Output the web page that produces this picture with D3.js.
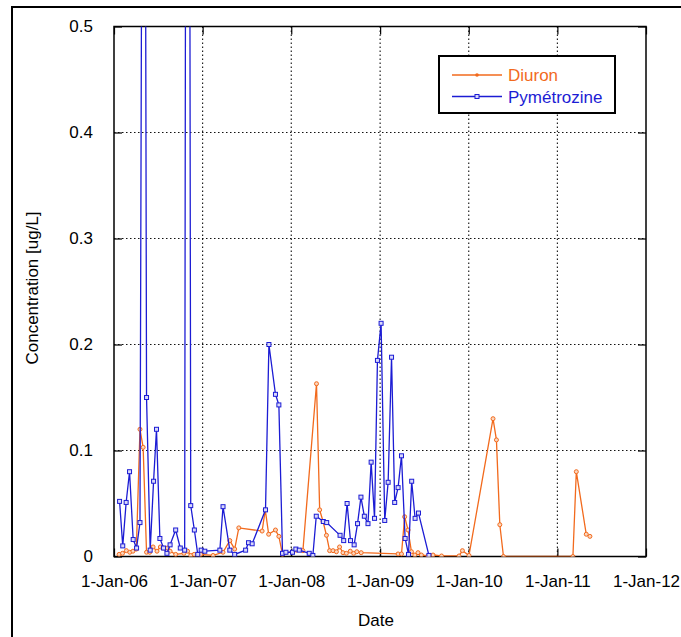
<!DOCTYPE html>
<html>
<head>
<meta charset="utf-8">
<script src="https://cdn.jsdelivr.net/npm/d3@7"></script>
<style>
  html, body { margin: 0; padding: 0; background: #fff; }
  svg { display: block; font-family: "Liberation Sans", Arial, sans-serif; }
</style>
</head>
<body>
<svg id="chart" width="681" height="637"></svg>
<script>
// Sampling dates and concentrations (ug/L)
const diuronDates = [
  "2006-01-22","2006-02-05","2006-02-21","2006-03-07","2006-03-20","2006-04-03",
  "2006-04-18","2006-05-01","2006-05-15","2006-05-28","2006-06-11","2006-06-27",
  "2006-07-11","2006-07-22","2006-08-09","2006-08-20","2006-09-12","2006-10-16",
  "2006-10-31","2006-11-13","2006-11-27","2006-12-24","2007-02-13","2007-03-26",
  "2007-04-23","2007-05-13","2007-05-30","2007-09-03","2007-09-16","2007-09-30",
  "2007-10-28","2007-11-11","2007-11-26","2008-01-22","2008-02-18","2008-04-14",
  "2008-04-27","2008-05-11","2008-05-25","2008-06-07","2008-06-21","2008-07-05",
  "2008-07-18","2008-08-01","2008-08-15","2008-08-31","2008-09-14","2008-09-27",
  "2008-10-15","2009-03-16","2009-03-30","2009-04-12","2009-04-26","2009-05-10",
  "2009-05-24","2009-06-06","2009-06-20","2009-07-17","2009-08-07","2009-09-11",
  "2009-11-22","2009-12-06","2010-01-02","2010-04-11","2010-04-25","2010-05-09",
  "2010-05-24","2011-03-06","2011-03-20","2011-04-30","2011-05-15"
];
const diuronValues = [
  0.002, 0.003, 0.0055, 0.004, 0.005, 0.007,
  0.120, 0.103, 0.004, 0.004, 0.009, 0.005,
  0.009, 0.008, 0.008, 0.005, 0.002, 0.003,
  0.005, 0.001, 0.002, 0.002, 0.001, 0.004,
  0.015, 0.007, 0.027, 0.024, 0.044, 0.021,
  0.025, 0.019, 0.002, 0.006, 0.0055, 0.163,
  0.044, 0.033, 0.020, 0.0055, 0.0055, 0.0045,
  0.009, 0.0036, 0.003, 0.005, 0.003, 0.0045,
  0.0036, 0.0024, 0.0024, 0.0375, 0.025, 0.0045,
  0.0014, 0.0036, 0.0014, 0.0005, 0.0014, 0.0005,
  0.0005, 0.0055, 0.001, 0.130, 0.110, 0.030,
  0.0, 0.0, 0.080, 0.021, 0.019
];

const pymDates = [
  "2006-01-24","2006-02-06","2006-02-20","2006-03-06","2006-03-21","2006-04-04",
  "2006-04-18","2006-05-04","2006-05-15","2006-05-30","2006-06-13","2006-06-25",
  "2006-07-09","2006-07-24","2006-08-07","2006-08-20","2006-09-12","2006-10-01",
  "2006-10-19","2006-10-31","2006-11-13","2006-11-28","2006-12-12","2006-12-26",
  "2007-01-10","2007-03-13","2007-03-26","2007-04-23","2007-05-13","2007-06-27",
  "2007-07-09","2007-07-24","2007-09-17","2007-10-01","2007-10-28","2007-11-11",
  "2007-11-26","2007-12-10","2008-01-06","2008-01-20","2008-02-03","2008-03-15",
  "2008-03-30","2008-04-13","2008-05-12","2008-05-26","2008-07-20","2008-08-04",
  "2008-08-18","2008-09-01","2008-09-16","2008-09-30","2008-10-14","2008-10-28",
  "2008-11-12","2008-11-25","2008-12-09","2008-12-21","2009-01-05","2009-01-20",
  "2009-02-03","2009-02-17","2009-03-02","2009-03-16","2009-03-30","2009-04-14",
  "2009-04-28","2009-05-11","2009-05-25","2009-06-08","2009-07-21"
];
const pymValues = [
  0.052, 0.010, 0.051, 0.080, 0.016, 0.008,
  0.032, 1.30, 0.150, 0.006, 0.071, 0.120,
  0.017, 0.008, 0.003, 0.011, 0.025, 0.008,
  0.006, 1.90, 0.048, 0.025, 0.002, 0.006,
  0.005, 0.006, 0.047, 0.006, 0.002, 0.006,
  0.013, 0.012, 0.044, 0.200, 0.153, 0.143,
  0.003, 0.004, 0.004, 0.007, 0.006, 0.003,
  0.001, 0.038, 0.033, 0.032, 0.020, 0.015,
  0.050, 0.015, 0.011, 0.031, 0.056, 0.038,
  0.031, 0.089, 0.036, 0.185, 0.220, 0.034,
  0.070, 0.188, 0.051, 0.065, 0.095, 0.017,
  0.002, 0.071, 0.036, 0.041, 0.001
];

const xTickDates = ["2006-01-01","2007-01-01","2008-01-01","2009-01-01","2010-01-01","2011-01-01","2012-01-01"];
const yTicks = [0, 0.1, 0.2, 0.3, 0.4, 0.5];
const seriesNames = ["Diuron", "Pymétrozine"];
const seriesColors = ["#f26a1d", "#1c1cd4"];

const parse = d3.utcParse("%Y-%m-%d");
const diuron = diuronDates.map((d, i) => ({ date: parse(d), value: diuronValues[i] }));
const pym = pymDates.map((d, i) => ({ date: parse(d), value: pymValues[i] }));
const xTicks = xTickDates.map(parse);

const svg = d3.select("#chart");
const plot = { left: 114, right: 646, top: 26.5, bottom: 556.5 };
const font = 17;

// Outer frame
svg.append("rect")
  .attr("x", 12).attr("y", 7).attr("width", 700).attr("height", 660)
  .attr("fill", "none").attr("stroke", "#000").attr("stroke-width", 2);

const x = d3.scaleUtc().domain([xTicks[0], xTicks[xTicks.length - 1]]).range([plot.left, plot.right]);
const y = d3.scaleLinear().domain([0, 0.5]).range([plot.bottom, plot.top]);

// Dotted grid
const grid = svg.append("g").attr("stroke", "#111").attr("stroke-width", 1.1).attr("stroke-dasharray", "1.5,2.5");
grid.selectAll("line.v").data(xTicks.slice(1, -1)).join("line")
  .attr("x1", d => x(d)).attr("x2", d => x(d))
  .attr("y1", plot.top).attr("y2", plot.bottom);
grid.selectAll("line.h").data(yTicks.slice(1, -1)).join("line")
  .attr("x1", plot.left).attr("x2", plot.right)
  .attr("y1", d => y(d)).attr("y2", d => y(d));

// Axes with inward ticks on every side
const fmtDate = d3.utcFormat("%-d-%b-%y");
const fmtY = d => d === 0 ? "0" : d3.format(".1f")(d);

const gx = svg.append("g").attr("transform", `translate(0,${plot.bottom})`)
  .call(d3.axisBottom(x).tickValues(xTicks).tickFormat(fmtDate).tickSizeInner(-8).tickSizeOuter(0).tickPadding(18));
const gxTop = svg.append("g").attr("transform", `translate(0,${plot.top})`)
  .call(d3.axisTop(x).tickValues(xTicks).tickFormat("").tickSizeInner(-8).tickSizeOuter(0));
const gy = svg.append("g").attr("transform", `translate(${plot.left},0)`)
  .call(d3.axisLeft(y).tickValues(yTicks).tickFormat(fmtY).tickSizeInner(-8).tickSizeOuter(0).tickPadding(21));
const gyRight = svg.append("g").attr("transform", `translate(${plot.right},0)`)
  .call(d3.axisRight(y).tickValues(yTicks).tickFormat("").tickSizeInner(-8).tickSizeOuter(0));

[gx, gxTop, gy, gyRight].forEach(g => {
  g.select(".domain").remove();
  g.selectAll(".tick line").attr("stroke", "#000").attr("stroke-width", 1.2);
  g.selectAll("text").attr("fill", "#000").style("font-size", font + "px")
    .style("font-family", '"Liberation Sans", Arial, sans-serif');
});

// Plot border
svg.append("rect")
  .attr("x", plot.left).attr("y", plot.top)
  .attr("width", plot.right - plot.left).attr("height", plot.bottom - plot.top)
  .attr("fill", "none").attr("stroke", "#000").attr("stroke-width", 1.5);

// Axis titles
svg.append("text")
  .attr("transform", `translate(38,288) rotate(-90)`)
  .attr("text-anchor", "middle").style("font-size", font + "px").text("Concentration [ug/L]");
svg.append("text")
  .attr("x", 376).attr("y", 626)
  .attr("text-anchor", "middle").style("font-size", font + "px").text("Date");

// Series, clipped to the plot area
svg.append("clipPath").attr("id", "clip").append("rect")
  .attr("x", plot.left).attr("y", plot.top)
  .attr("width", plot.right - plot.left).attr("height", plot.bottom - plot.top);
const body = svg.append("g").attr("clip-path", "url(#clip)");

const line = d3.line().x(d => x(d.date)).y(d => y(d.value));

// Diuron
body.append("path").datum(diuron)
  .attr("d", line).attr("fill", "none")
  .attr("stroke", seriesColors[0]).attr("stroke-width", 1.3);
body.selectAll("circle.diuron").data(diuron).join("circle")
  .attr("class", "diuron")
  .attr("cx", d => x(d.date)).attr("cy", d => y(d.value)).attr("r", 2)
  .attr("fill", "#fbd6bd").attr("stroke", seriesColors[0]).attr("stroke-width", 1);

// Pymétrozine
body.append("path").datum(pym)
  .attr("d", line).attr("fill", "none")
  .attr("stroke", seriesColors[1]).attr("stroke-width", 1.3);
body.selectAll("rect.pym").data(pym).join("rect")
  .attr("class", "pym")
  .attr("x", d => x(d.date) - 2).attr("y", d => y(d.value) - 2)
  .attr("width", 4).attr("height", 4)
  .attr("fill", "#d8d8fa").attr("stroke", seriesColors[1]).attr("stroke-width", 1);

// Legend
const legend = svg.append("g");
legend.append("rect")
  .attr("x", 439).attr("y", 56).attr("width", 176).attr("height", 57)
  .attr("fill", "#fff").attr("stroke", "#000").attr("stroke-width", 2);
seriesNames.forEach((name, i) => {
  const ly = 75 + i * 21.5;
  legend.append("line")
    .attr("x1", 452).attr("x2", 502).attr("y1", ly).attr("y2", ly)
    .attr("stroke", seriesColors[i]).attr("stroke-width", 1.3);
  if (i === 0) {
    legend.append("circle").attr("cx", 477).attr("cy", ly).attr("r", 1.8)
      .attr("fill", seriesColors[i]);
  } else {
    legend.append("rect").attr("x", 475).attr("y", ly - 2).attr("width", 4).attr("height", 4)
      .attr("fill", "#d8d8fa").attr("stroke", seriesColors[i]).attr("stroke-width", 1);
  }
  legend.append("text")
    .attr("x", 508).attr("y", ly + 6)
    .attr("fill", seriesColors[i]).style("font-size", font + "px").text(name);
});
</script>
</body>
</html>
